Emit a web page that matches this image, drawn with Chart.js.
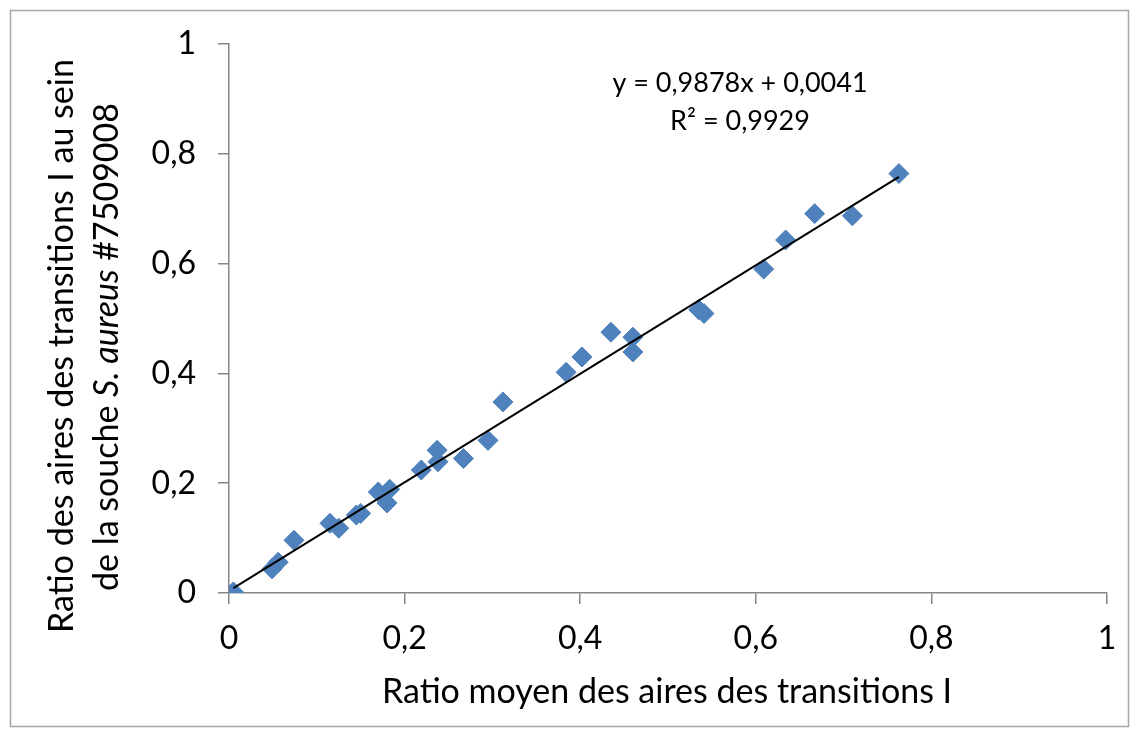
<!DOCTYPE html>
<html>
<head>
<meta charset="utf-8">
<script src="https://cdn.jsdelivr.net/npm/chart.js@4"></script>
<style>
  html, body { margin: 0; padding: 0; background: #fff; }
  #wrap { width: 1136px; height: 735px; position: relative; }
</style>
</head>
<body>
<div id="wrap"><canvas id="chart" width="1136" height="735"></canvas></div>
<script>
'use strict';

// valeurs
const ratioMoyen = [0.005, 0.049, 0.056, 0.074, 0.115, 0.125, 0.145, 0.150, 0.170, 0.183, 0.180, 0.219, 0.237, 0.238, 0.267, 0.295, 0.312, 0.384, 0.402, 0.435, 0.460, 0.460, 0.535, 0.541, 0.609, 0.634, 0.667, 0.710, 0.763];
const ratioSouche = [0.002, 0.044, 0.056, 0.096, 0.127, 0.118, 0.142, 0.145, 0.184, 0.189, 0.164, 0.224, 0.260, 0.239, 0.245, 0.278, 0.348, 0.402, 0.430, 0.475, 0.466, 0.439, 0.516, 0.509, 0.590, 0.643, 0.691, 0.687, 0.764];

// courbe de tendance (extrémités)
const trendX = [0.005, 0.763];
const trendY = [0.009, 0.758];

const tickValues = [0, 0.2, 0.4, 0.6, 0.8, 1];
const tickLabels = ['0', '0,2', '0,4', '0,6', '0,8', '1'];

const xTitle = 'Ratio moyen des aires des transitions I';
const yTitle1 = 'Ratio des aires des transitions I au sein';
const yTitle2 = [['de la souche ', false], ['S. aureus', true], [' #7509008', false]];
const equation = ['y = 0,9878x + 0,0041', 'R² = 0,9929'];

const FONT = 'Lato, "Open Sans", sans-serif';
const GREY = '#868686';
const BLUE = '#4F81BD';

const toPoints = (xs, ys) => xs.map((x, i) => ({ x: x, y: ys[i] }));
const labelFor = v => {
    const i = tickValues.findIndex(t => Math.abs(t - v) < 1e-9);
    return i >= 0 ? tickLabels[i] : '';
};

const decorPlugin = {
    id: 'decor',
    beforeDraw(chart) {
        const ctx = chart.ctx;
        ctx.save();
        ctx.fillStyle = '#fff';
        ctx.fillRect(0, 0, chart.width, chart.height);
        ctx.strokeStyle = '#a6a6a6';
        ctx.lineWidth = 1.5;
        ctx.strokeRect(10.5, 10.5, 1118, 716);
        ctx.restore();
    },
    afterDraw(chart) {
        const ctx = chart.ctx;
        ctx.save();
        ctx.fillStyle = '#000';
        ctx.textBaseline = 'alphabetic';

        // titre axe x
        ctx.font = '34px ' + FONT;
        ctx.textAlign = 'center';
        ctx.fillText(xTitle, 667, 703);

        // équation
        ctx.font = '27px ' + FONT;
        ctx.fillText(equation[0], 740, 92);
        ctx.fillText(equation[1], 740, 130);

        // titre axe y (deux lignes, avec italique)
        ctx.save();
        ctx.translate(73, 346);
        ctx.rotate(-Math.PI / 2);
        ctx.font = '34px ' + FONT;
        ctx.textAlign = 'center';
        ctx.fillText(yTitle1, 0, 0);
        ctx.restore();

        ctx.save();
        ctx.translate(118, 347);
        ctx.rotate(-Math.PI / 2);
        ctx.textAlign = 'left';
        let total = 0;
        yTitle2.forEach(([t, it]) => {
            ctx.font = (it ? 'italic ' : '') + '34px ' + FONT;
            total += ctx.measureText(t).width;
        });
        let pos = -total / 2;
        yTitle2.forEach(([t, it]) => {
            ctx.font = (it ? 'italic ' : '') + '34px ' + FONT;
            ctx.fillText(t, pos, 0);
            pos += ctx.measureText(t).width;
        });
        ctx.restore();

        ctx.restore();
    }
};

new Chart(document.getElementById('chart'), {
    type: 'scatter',
    data: {
        datasets: [
            {
                label: 'Tendance',
                data: toPoints(trendX, trendY),
                showLine: true,
                borderColor: '#000',
                borderWidth: 2,
                pointRadius: 0,
                order: 0
            },
            {
                label: 'Ratio',
                data: toPoints(ratioMoyen, ratioSouche),
                pointStyle: 'rectRot',
                pointRadius: 10,
                backgroundColor: BLUE,
                borderColor: BLUE,
                borderWidth: 1,
                order: 1
            }
        ]
    },
    options: {
        responsive: false,
        animation: false,
        devicePixelRatio: 1,
        layout: { padding: { top: 44, right: 29, left: 0, bottom: 0 } },
        plugins: { legend: { display: false }, tooltip: { enabled: false } },
        scales: {
            x: {
                type: 'linear',
                min: 0, max: 1,
                afterFit: s => { s.height = 142; },
                afterBuildTicks: s => { s.ticks = tickValues.map(v => ({ value: v })); },
                border: { color: GREY, width: 1.5 },
                grid: { drawOnChartArea: false, color: GREY, tickLength: 11, lineWidth: 1.5 },
                ticks: { callback: labelFor, color: '#000', font: { family: FONT, size: 32 }, padding: 15, maxRotation: 0 }
            },
            y: {
                type: 'linear',
                min: 0, max: 1,
                afterFit: s => { s.width = 229; },
                afterBuildTicks: s => { s.ticks = tickValues.map(v => ({ value: v })); },
                border: { color: GREY, width: 1.5 },
                grid: { drawOnChartArea: false, color: GREY, tickLength: 11, lineWidth: 1.5 },
                ticks: { callback: labelFor, color: '#000', font: { family: FONT, size: 32 }, padding: 22 }
            }
        }
    },
    plugins: [decorPlugin]
});
</script>
</body>
</html>
